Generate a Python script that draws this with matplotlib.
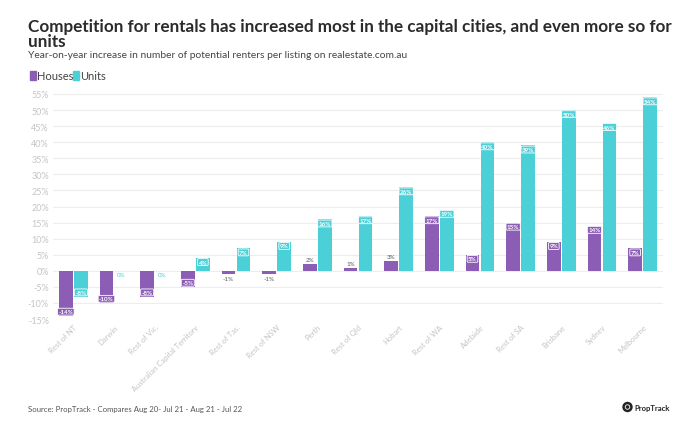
import matplotlib.pyplot as plt
from matplotlib.patches import Ellipse
import numpy as np

categories = ["Rest of NT", "Darwin", "Rest of Vic.", "Australian Capital Territory", "Rest of Tas.",
              "Rest of NSW", "Perth", "Rest of Qld", "Hobart", "Rest of WA", "Adelaide",
              "Rest of SA", "Brisbane", "Sydney", "Melbourne"]
houses = [-14, -10, -8, -5, -1, -1, 2, 1, 3, 17, 5, 15, 9, 14, 7]
units = [-8, 0, 0, 4, 7, 9, 16, 17, 26, 19, 40, 39, 50, 46, 54]
yticks = list(range(-15, 60, 5))

PURPLE = "#8C5DB5"
TEAL = "#4BD0D8"
GRID = "#EDEDED"
TICK = "#C4C4C4"

plt.rcParams['font.family'] = ['Lato', 'DejaVu Sans']

fig = plt.figure(figsize=(6.85, 4.39), dpi=100)
ax = fig.add_axes([53/685, 1 - 320/439, (663-53)/685, (320-95)/439])

x = np.arange(len(categories))
w = 0.33
off = 0.185
ax.bar(x - off, houses, w, color=PURPLE, zorder=3)
ax.bar(x + off, units, w, color=TEAL, zorder=3)

ax.set_ylim(-15, 55)
ax.set_xlim(-0.5, len(categories) - 0.5)
ax.set_yticks(yticks)
ax.set_yticklabels([f"{t}%" for t in yticks], color=TICK, fontsize=6.5)
ax.grid(axis='y', color=GRID, linewidth=0.8, zorder=0)
for s in ax.spines.values():
    s.set_visible(False)
ax.tick_params(axis='both', length=0, pad=3)
ax.set_xticks(x)
ax.set_xticklabels(categories, rotation=45, ha='right', rotation_mode='anchor',
                   color=TICK, fontsize=5.5)


def label(xc, v, color, outside_color):
    txt = f"{v}%"
    if v == 0:
        ax.text(xc, -0.4, txt, ha='center', va='top', fontsize=4.5, color=outside_color, zorder=5)
        return
    if abs(v) <= 3:
        if v > 0:
            ax.text(xc, v + 0.6, txt, ha='center', va='bottom', fontsize=4.5, color="#555555", zorder=5)
        else:
            ax.text(xc, v - 0.6, txt, ha='center', va='top', fontsize=4.5, color="#555555", zorder=5)
        return
    bbox = dict(boxstyle='round,pad=0.15', fc=color, ec='white', lw=0.6)
    if v > 0:
        ax.text(xc, v - 0.5, txt, ha='center', va='top', fontsize=4.5, color='white',
                bbox=bbox, zorder=5, fontweight='bold')
    else:
        ax.text(xc, v + 0.5, txt, ha='center', va='bottom', fontsize=4.5, color='white',
                bbox=bbox, zorder=5, fontweight='bold')


for i in range(len(categories)):
    label(x[i] - off, houses[i], PURPLE, PURPLE)
    label(x[i] + off, units[i], TEAL, TEAL)

fig.text(28/685, 1 - 27/439, "Competition for rentals has increased most in the capital cities, and even more so for",
         fontsize=12.3, fontweight='bold', color="#2b2b2b", va='center')
fig.text(28/685, 1 - 42/439, "units", fontsize=12.3, fontweight='bold', color="#2b2b2b", va='center')
fig.text(28/685, 1 - 56/439, "Year-on-year increase in number of potential renters per listing on realestate.com.au",
         fontsize=7.4, color="#444444", va='center')

# legend
fig.patches.append(plt.Rectangle((30/685, 1 - 80.5/439), 5.5/685, 9/439, transform=fig.transFigure,
                                 color=PURPLE))
fig.text(37/685, 1 - 76/439, "Houses", fontsize=8, color="#444444", va='center')
fig.patches.append(plt.Rectangle((73/685, 1 - 80.5/439), 5.5/685, 9/439, transform=fig.transFigure,
                                 color=TEAL))
fig.text(80.5/685, 1 - 76/439, "Units", fontsize=8, color="#444444", va='center')

fig.text(28/685, 1 - 410/439, "Source: PropTrack - Compares Aug 20- Jul 21 - Aug 21 - Jul 22",
         fontsize=5.6, color="#555555", va='center')
fig.patches.append(Ellipse((627.5/685, 1 - 408/439), 9/685, 9/439, transform=fig.transFigure,
                           color="#222222"))
fig.patches.append(Ellipse((627.5/685, 1 - 408/439), 4.5/685, 4.5/439, transform=fig.transFigure,
                           fc="none", ec="white", lw=0.6))
fig.text(634/685, 1 - 408.5/439, "PropTrack", fontsize=5.5, color="#222222", va='center',
         fontweight='bold')

fig.savefig("out.png", dpi=100, facecolor='white')
